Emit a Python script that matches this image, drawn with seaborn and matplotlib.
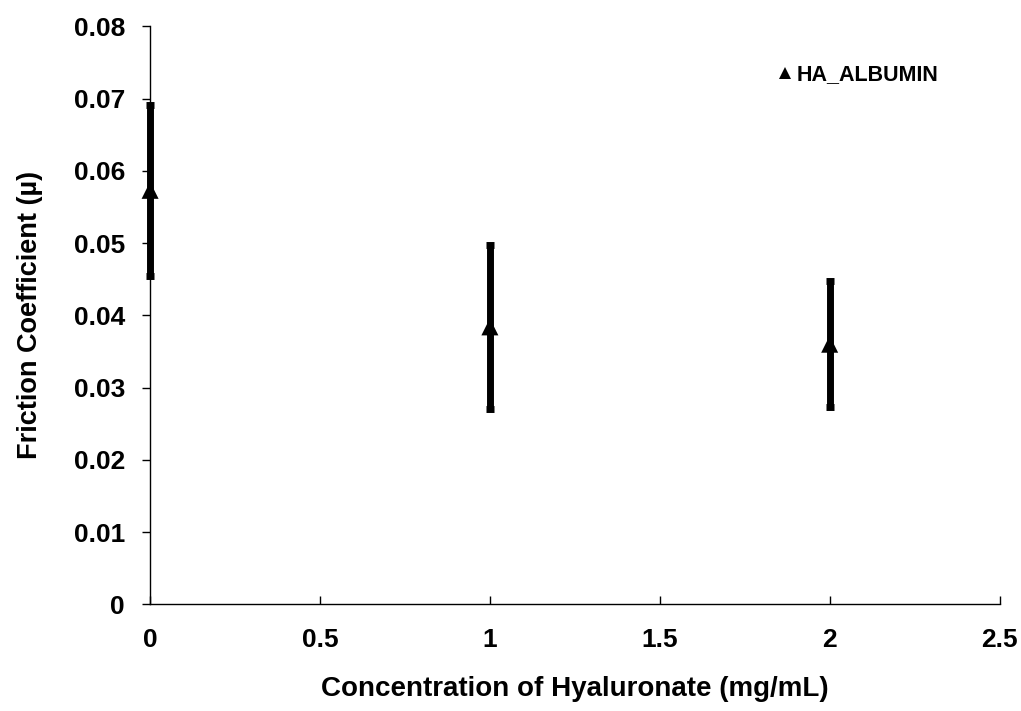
import matplotlib
matplotlib.use("Agg")
import matplotlib.pyplot as plt
import seaborn as sns
import pandas as pd

concentration = [0, 1, 2]
friction_mean = [0.0573, 0.0384, 0.0360]
friction_err = [0.0118, 0.0114, 0.0087]
series_name = "HA_ALBUMIN"

sns.set_style("white")
plt.rcParams['font.family'] = ['Liberation Sans', 'DejaVu Sans']
plt.rcParams['font.weight'] = 'bold'
plt.rcParams['text.color'] = 'black'
plt.rcParams['axes.labelcolor'] = 'black'

df = pd.DataFrame({"x": concentration, "y": friction_mean, "err": friction_err, "series": series_name})

fig = plt.figure(figsize=(10.21, 7.11), dpi=100)
ax = fig.add_axes([0.147, 0.150, 0.832, 0.813])

eb = ax.errorbar(df["x"], df["y"], yerr=df["err"], fmt='none', ecolor='black',
                 elinewidth=5, capsize=3, capthick=5, zorder=2)
for art in eb.get_children():
    art.set_clip_on(False)
sns.scatterplot(data=df, x="x", y="y", hue="series", palette=["black"], marker='^',
                s=150, edgecolor='black', linewidth=0, ax=ax, zorder=3, clip_on=False)

ax.set_xlim(0, 2.5)
ax.set_ylim(0, 0.08)
ax.set_xticks([0, 0.5, 1, 1.5, 2, 2.5])
ax.set_xticklabels(["0", "0.5", "1", "1.5", "2", "2.5"])
ax.set_yticks([0, 0.01, 0.02, 0.03, 0.04, 0.05, 0.06, 0.07, 0.08])
ax.set_yticklabels(["0", "0.01", "0.02", "0.03", "0.04", "0.05", "0.06", "0.07", "0.08"])

for s in ["top", "right"]:
    ax.spines[s].set_visible(False)
for s in ["left", "bottom"]:
    ax.spines[s].set_color("black")
    ax.spines[s].set_linewidth(1.0)

ax.tick_params(axis='y', direction='out', length=6, width=1, left=True, labelsize=19, pad=12, colors='black')
ax.tick_params(axis='x', direction='in', length=6, width=1, bottom=True, labelsize=19, pad=17, colors='black')
for lab in ax.get_xticklabels() + ax.get_yticklabels():
    lab.set_fontweight('bold')

ax.set_xlabel("Concentration of Hyaluronate (mg/mL)", fontsize=20, fontweight='bold', labelpad=17, color='black')
ax.set_ylabel("Friction Coefficient (µ)", fontsize=19.5, fontweight='bold', labelpad=22, color='black')

leg = ax.legend(loc='upper left', bbox_to_anchor=(0.715, 0.968), frameon=False,
                handlelength=0.8, handletextpad=0.1, markerscale=0.7,
                prop={'weight': 'bold', 'size': 15.5}, labelcolor='black')

fig.savefig("out.png", dpi=100)
